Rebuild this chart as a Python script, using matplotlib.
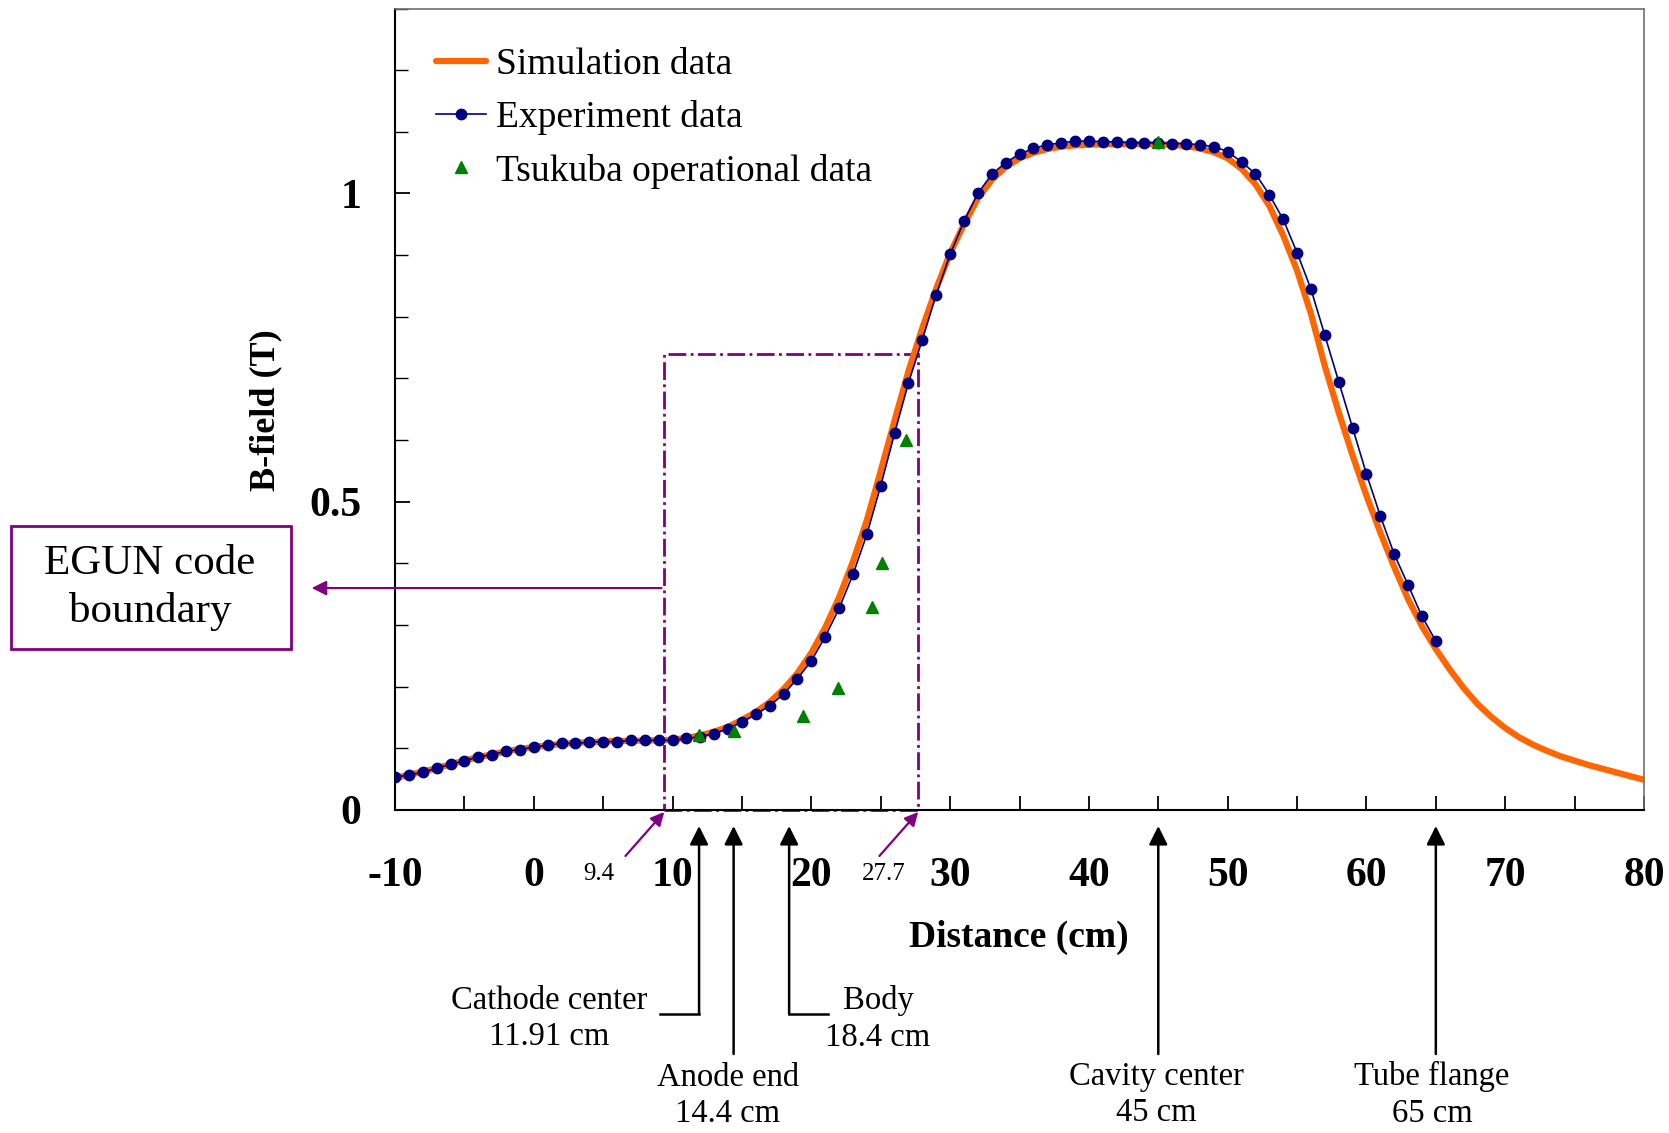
import matplotlib
matplotlib.use("Agg")
import matplotlib.pyplot as plt
from matplotlib.patches import Rectangle
from matplotlib.ticker import MultipleLocator

plt.rcParams['font.family'] = ['Liberation Serif', 'DejaVu Serif']
plt.rcParams['axes.unicode_minus'] = False

# simulation, every 1 cm from -10 to 80
sim_x = list(range(-10, 81))
sim_b = [0.052, 0.057, 0.062, 0.068, 0.074, 0.080, 0.086, 0.090, 0.095, 0.099,
         0.102, 0.105, 0.107, 0.109, 0.110, 0.111, 0.112, 0.112, 0.113, 0.113,
         0.114, 0.117, 0.121, 0.127, 0.135, 0.146, 0.159, 0.175, 0.196, 0.222,
         0.255, 0.296, 0.345, 0.403, 0.470, 0.550, 0.632, 0.712, 0.782, 0.846,
         0.903, 0.950, 0.992, 1.022, 1.043, 1.057, 1.066, 1.072, 1.076, 1.078,
         1.079, 1.080, 1.080, 1.080, 1.080, 1.080, 1.079, 1.077, 1.073, 1.067,
         1.057, 1.040, 1.015, 0.980, 0.932, 0.875, 0.805, 0.720, 0.645, 0.575,
         0.510, 0.450, 0.394, 0.342, 0.298, 0.261, 0.228, 0.198, 0.172, 0.151,
         0.133, 0.118, 0.106, 0.096, 0.087, 0.080, 0.073, 0.067, 0.061, 0.055,
         0.049]

# measured, every 1 cm from -10 to 65
exp_x = list(range(-10, 66))
exp_b = [0.053, 0.057, 0.061, 0.068, 0.074, 0.080, 0.086, 0.090, 0.095, 0.098,
         0.102, 0.105, 0.108, 0.108, 0.110, 0.111, 0.111, 0.113, 0.113, 0.113,
         0.113, 0.116, 0.119, 0.124, 0.132, 0.143, 0.155, 0.169, 0.188, 0.213,
         0.242, 0.281, 0.327, 0.382, 0.447, 0.526, 0.611, 0.693, 0.763, 0.836,
         0.901, 0.955, 1.000, 1.031, 1.050, 1.064, 1.073, 1.079, 1.082, 1.085,
         1.085, 1.084, 1.084, 1.082, 1.082, 1.082, 1.081, 1.081, 1.079, 1.076,
         1.068, 1.051, 1.032, 0.998, 0.958, 0.904, 0.845, 0.770, 0.695, 0.620,
         0.545, 0.477, 0.415, 0.365, 0.314, 0.274]

tsukuba_x = [11.91, 14.4, 19.4, 21.9, 24.4, 25.1, 26.8, 45.0]
tsukuba_b = [0.121, 0.128, 0.153, 0.198, 0.329, 0.400, 0.600, 1.084]

egun_left = 9.4
egun_right = 27.7
egun_top = 0.74

markers = [("Cathode center\n11.91 cm", 11.91, 549, 1019, -1),
           ("Anode end\n14.4 cm", 14.4, 728, 1096, 0),
           ("Body\n18.4 cm", 18.4, 878, 1019, 1),
           ("Cavity center\n45 cm", 45.0, 1156, 1095, 0),
           ("Tube flange\n65 cm", 65.0, 1432, 1095, 0)]

W, H = 1669, 1133
fig = plt.figure(figsize=(W / 100, H / 100), dpi=100)
ax = fig.add_axes([395 / W, 1 - 810 / H, 1249 / W, 801.5 / H])

ax.plot(sim_x, sim_b, color='#ff6600', lw=4.5, solid_capstyle='round',
        label='Simulation data', zorder=2)
ax.plot(exp_x, exp_b, color='#000080', lw=1.2, marker='o', ms=7.5,
        label='Experiment data', zorder=3)
ax.plot(tsukuba_x, tsukuba_b, ls='none', marker='^', ms=9, color='#008000',
        label='Tsukuba operational data', zorder=4)

ax.set_xlim(-10, 80)
ax.set_ylim(0, 1.3)
ax.xaxis.set_major_locator(MultipleLocator(10))
ax.xaxis.set_minor_locator(MultipleLocator(5))
ax.set_yticks([0, 0.5, 1])
ax.set_yticklabels(['0', '0.5', '1'])
ax.yaxis.set_minor_locator(MultipleLocator(0.1))
ax.tick_params(axis='x', which='both', direction='in', length=10, width=1.3, pad=34,
               labelsize=30)
ax.tick_params(axis='y', which='major', direction='in', length=11, width=1.3, pad=24,
               labelsize=30)
ax.tick_params(axis='y', which='minor', direction='in', length=9, width=1.0)
for lab in ax.get_xticklabels() + ax.get_yticklabels():
    lab.set_fontweight('bold')
for s in ['left', 'bottom']:
    ax.spines[s].set_linewidth(1.5)
    ax.spines[s].set_color('black')
for s in ['top', 'right']:
    ax.spines[s].set_linewidth(1.2)
    ax.spines[s].set_color('#707070')

def fx(px):
    return px / W

def fy(py):
    return 1 - py / H

fig.text(fx(266), fy(410), 'B-field (T)', rotation=90, ha='center', va='center',
         fontsize=26, fontweight='bold')
fig.text(fx(1019), fy(937), 'Distance (cm)', ha='center', va='center',
         fontsize=27, fontweight='bold')

ax.legend(loc='upper left', bbox_to_anchor=(0.0331, 0.9516), frameon=False,
          fontsize=27, handlelength=1.33, handletextpad=0.26, labelspacing=0.49,
          borderpad=0, borderaxespad=0, numpoints=1)

# EGUN region
purple = '#800080'
ax.add_patch(Rectangle((egun_left, 0), egun_right - egun_left, egun_top, fill=False,
                       ec=purple, lw=2, ls='-.', zorder=1, clip_on=False))
ax.annotate('', xy=(-16.2, 0.36), xytext=(egun_left, 0.36),
            arrowprops=dict(arrowstyle='-|>', color=purple, lw=1.5, mutation_scale=22),
            annotation_clip=False)
fig.add_artist(Rectangle((fx(10.6), fy(649)), (290.6 - 10.6) / W, (649 - 526) / H,
                         transform=fig.transFigure, fill=False, ec=purple, lw=2))
fig.text(fx(150), fy(588), 'EGUN code\nboundary', ha='center', va='center',
         fontsize=31, linespacing=1.3)

def yd(py):
    return (810 - py) / 616.5

for val, tx, ty in [(egun_left, 599, 874), (egun_right, 884, 874)]:
    ax.text(tx / 1249 * 90 - 10 - 395 / 1249 * 90, yd(ty), f'{val:g}', ha='center',
            va='center', fontsize=18, clip_on=False)
    ax.annotate('', xy=(val, yd(812)), xytext=(val - 18 / 13.88 - 1.5, yd(856)),
                arrowprops=dict(arrowstyle='-|>', color=purple, lw=1.6,
                                mutation_scale=20, shrinkA=0, shrinkB=0),
                annotation_clip=False)

for label, xv, tx, ty, side in markers:
    bottom = 1014 if side != 0 else 1054
    ax.annotate('', xy=(xv, yd(826)), xytext=(xv, yd(bottom)),
                arrowprops=dict(arrowstyle='-|>', color='black', lw=1.8,
                                mutation_scale=28, shrinkA=0, shrinkB=0),
                annotation_clip=False)
    if side != 0:
        ax.plot([xv, xv + side * 2.8], [yd(bottom), yd(bottom)], color='black',
                lw=1.8, clip_on=False)
    fig.text(fx(tx), fy(ty), label, ha='center', va='center', fontsize=23.5,
             linespacing=1.25)

fig.savefig('out.png', dpi=100)
